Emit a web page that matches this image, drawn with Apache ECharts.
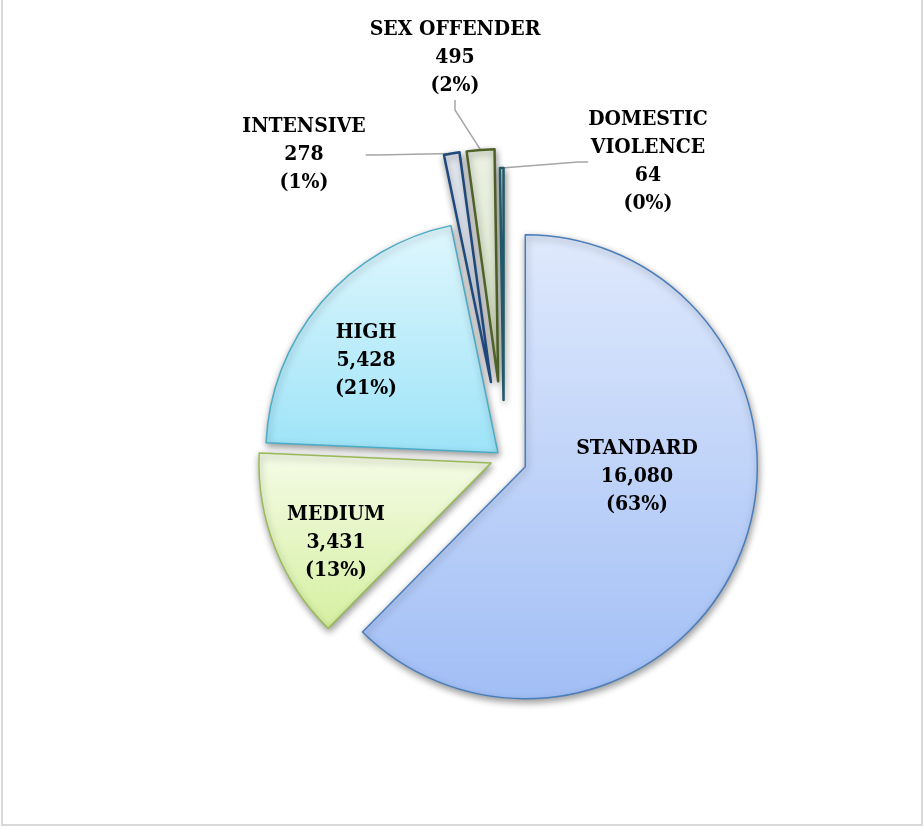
<!DOCTYPE html>
<html>
<head>
<meta charset="utf-8">
<script src="https://cdn.jsdelivr.net/npm/echarts@6/dist/echarts.min.js"></script>
<style>
html,body{margin:0;padding:0;background:#fff;overflow:hidden}
#wrap{position:relative;width:924px;height:827px}
#main{position:absolute;left:0;top:0;width:924px;height:827px}
#frame{position:absolute;left:1px;top:-4px;width:922px;height:830px;box-sizing:border-box;
  border-left:2px solid #d9d9d9;border-right:2px solid #d9d9d9;border-bottom:2px solid #d9d9d9;pointer-events:none}
</style>
</head>
<body>
<div id="wrap"><div id="main"></div><div id="frame"></div></div>
<script>
// ---- data ----
const categories = ['STANDARD', 'MEDIUM', 'HIGH', 'INTENSIVE', 'SEX OFFENDER', 'DOMESTIC VIOLENCE'];
const values = [16080, 3431, 5428, 278, 495, 64];

// ---- styles (not data) ----
const fills = [
  ['#dfe9fc', '#a1bef5'],
  ['#f5fbe7', '#d5f0a0'],
  ['#e0f7fd', '#9de3f8'],
  ['#e6ebf3', '#d2dbe9'],
  ['#ecf1e3', '#d5e1c2'],
  ['#e2f1f4', '#c2e1e7']
];
const borders = ['#4a7ebb', '#9bbb59', '#4bacc6', '#1f497d', '#4f6228', '#215968'];
const borderWidths = [1.5, 1.5, 1.5, 2.5, 2.5, 2.5];
const explode = [23, 14, 8, 77, 77, 58];
const labelPos = [[637, 477], [336, 543], [366, 361], [304, 155], [455, 58], [648, 162]];
const outsideLabel = [false, false, false, true, true, true];
const CX = 504, CY = 458, R = 232;

const total = values.reduce((a, b) => a + b, 0);
let cum = 0;
const series = categories.map((name, i) => {
  const mid = (90 - 360 * (cum + values[i] / 2) / total) * Math.PI / 180;
  cum += values[i];
  const cx = CX + explode[i] * Math.cos(mid);
  const cy = CY - explode[i] * Math.sin(mid);
  const data = categories.map((n, j) => {
    if (j !== i) {
      return { name: n, value: values[j],
        itemStyle: { color: 'rgba(0,0,0,0)', borderWidth: 0, shadowBlur: 0, shadowColor: 'rgba(0,0,0,0)' },
        label: { show: false }, labelLine: { show: false } };
    }
    return {
      name: n, value: values[j],
      itemStyle: {
        color: new echarts.graphic.LinearGradient(0, 0, 0, 1, [
          { offset: 0, color: fills[i][0] }, { offset: 1, color: fills[i][1] }
        ]),
        borderColor: borders[i], borderWidth: borderWidths[i],
        shadowBlur: 7, shadowColor: 'rgba(0,0,0,0.4)', shadowOffsetX: 1, shadowOffsetY: 3
      }
    };
  });
  return {
    type: 'pie',
    silent: true,
    animation: false,
    center: [cx, cy],
    radius: [0, R],
    startAngle: 90,
    clockwise: true,
    avoidLabelOverlap: false,
    percentPrecision: 0,
    emphasis: { disabled: true },
    label: {
      show: true,
      position: outsideLabel[i] ? 'outside' : 'inside',
      fontFamily: '"DejaVu Serif Condensed", "Liberation Serif", serif',
      fontWeight: 'bold',
      fontSize: 21,
      lineHeight: 28,
      color: '#000',
      formatter: p => p.name.replace('DOMESTIC ', 'DOMESTIC\n') + '\n' + p.value.toLocaleString('en-US') + '\n(' + p.percent + '%)'
    },
    labelLine: {
      show: outsideLabel[i],
      length: 10, length2: 10,
      lineStyle: { color: '#a6a6a6', width: 1.5 }
    },
    labelLayout: { x: labelPos[i][0], y: labelPos[i][1], align: 'center', verticalAlign: 'middle' },
    data: data
  };
});

const chart = echarts.init(document.getElementById('main'), null, { renderer: 'canvas' });
chart.setOption({ backgroundColor: '#ffffff', series: series });
</script>
</body>
</html>
